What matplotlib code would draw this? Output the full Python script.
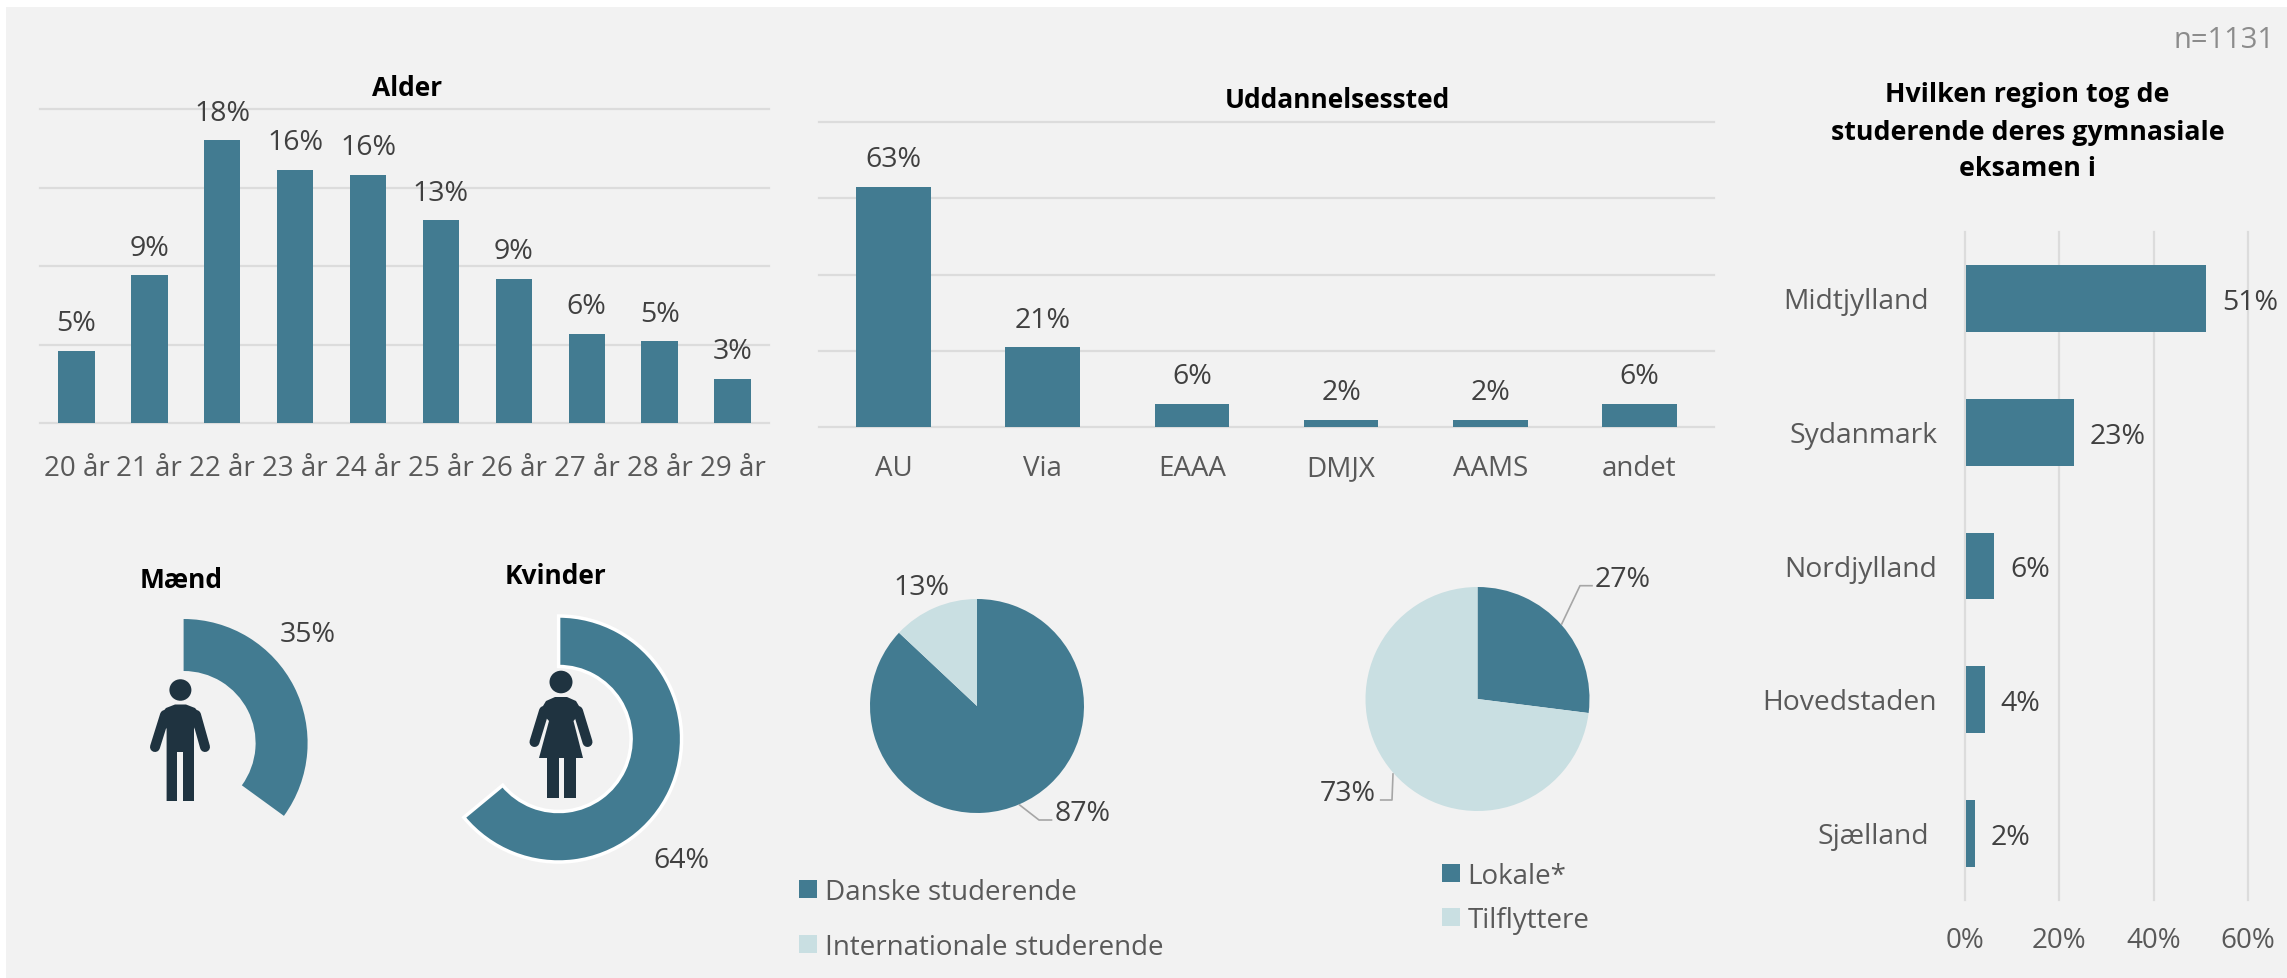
import matplotlib
matplotlib.use('Agg')
import matplotlib.pyplot as plt
from matplotlib.patches import Rectangle, Ellipse, Polygon
from matplotlib.transforms import ScaledTranslation

W, H = 2287, 979

TEAL = '#427b91'
LIGHT = '#c9dfe2'
DARK = '#1f3340'
GRID = '#dcdcdc'
VALUE = '#404040'
TICK = '#595959'
BG = '#f2f2f2'

age_labels = ['20 år', '21 år', '22 år', '23 år', '24 år', '25 år', '26 år', '27 år', '28 år', '29 år']
age_values = [4.6, 9.4, 18.0, 16.1, 15.8, 12.9, 9.2, 5.7, 5.2, 2.8]
age_text = ['5%', '9%', '18%', '16%', '16%', '13%', '9%', '6%', '5%', '3%']

school_labels = ['AU', 'Via', 'EAAA', 'DMJX', 'AAMS', 'andet']
school_values = [62.9, 20.9, 6.0, 1.9, 1.9, 6.0]
school_text = ['63%', '21%', '6%', '2%', '2%', '6%']

region_labels = ['Midtjylland', 'Sydanmark', 'Nordjylland', 'Hovedstaden', 'Sjælland']
region_values = [51, 22.9, 6, 4, 2]
region_text = ['51%', '23%', '6%', '4%', '2%']
region_ticks = [0, 20, 40, 60]

men_share = [35, 65]
women_share = [64, 36]
nationality_share = [87, 13]
local_share = [27, 73]

plt.rcParams['font.family'] = ['Open Sans', 'DejaVu Sans']


def px_axes(fig, left, top, right, bottom, **kw):
    return fig.add_axes([left / W, 1 - bottom / H, (right - left) / W, (bottom - top) / H], **kw)


def style_axes(ax):
    ax.patch.set_visible(False)
    for s in ax.spines.values():
        s.set_visible(False)
    ax.set_axisbelow(True)
    ax.tick_params(length=0)


def column_chart(fig, box, labels, values, text, ymax, step, pad):
    ax = px_axes(fig, *box)
    style_axes(ax)
    x = list(range(len(values)))
    ax.bar(x, values, width=0.5, color=TEAL)
    ax.set_xlim(-0.5, len(values) - 0.5)
    ax.set_ylim(0, ymax)
    ax.set_yticks(list(range(0, ymax + 1, step)))
    ax.set_yticklabels([])
    ax.set_xticks(x)
    ax.set_xticklabels(labels, fontsize=20, color=TICK)
    ax.tick_params(axis='x', pad=pad)
    ax.grid(axis='y', color=GRID, lw=1.6)
    for line in ax.get_ygridlines():
        line.set_clip_on(False)
    for i, v in enumerate(values):
        ax.annotate(text[i], (i, v), xytext=(0, 20), textcoords='offset points',
                    ha='center', va='center', fontsize=20.5, color=VALUE)
    return ax


def ring(fig, cx, cy, r, share, width, edge=None):
    ax = px_axes(fig, cx - r, cy - r, cx + r, cy + r)
    wedges, _ = ax.pie(share, colors=[TEAL, 'none'], startangle=90, counterclock=False, radius=1,
                       wedgeprops={'width': width, 'clip_on': False, 'linewidth': 0})
    if edge:
        wedges[0].set_edgecolor(edge)
        wedges[0].set_linewidth(2.5)
    ax.set_xlim(-1, 1)
    ax.set_ylim(-1, 1)
    return ax


def pie(fig, cx, cy, r, share):
    ax = px_axes(fig, cx - r, cy - r, cx + r, cy + r)
    ax.pie(share, colors=[TEAL, LIGHT], startangle=90, counterclock=False, radius=1,
           wedgeprops={'clip_on': False, 'linewidth': 0})
    ax.set_xlim(-1, 1)
    ax.set_ylim(-1, 1)
    return ax


fig = plt.figure(figsize=(W / 100, H / 100), dpi=100, facecolor='white')

# full figure layer in pixels, for the panel, icons, leaders and free text
ov = fig.add_axes([0, 0, 1, 1], zorder=5)
ov.set_xlim(0, W)
ov.set_ylim(H, 0)
ov.axis('off')
ov.patch.set_visible(False)

under = fig.add_axes([0, 0, 1, 1], zorder=-1)
under.set_xlim(0, W)
under.set_ylim(H, 0)
under.axis('off')
under.add_patch(Rectangle((6, 8), W - 6, H - 8, color=BG, lw=0))

column_chart(fig, (40, 110, 769, 424), age_labels, age_values, age_text, 20, 5, 22)
column_chart(fig, (819, 123, 1714, 428), school_labels, school_values, school_text, 80, 20, 19.4)

# region chart
ax = px_axes(fig, 1965, 233, 2248, 901)
style_axes(ax)
y = list(range(len(region_values)))
ax.barh(y, region_values, height=0.5, color=TEAL, left=0.2)
ax.set_xlim(0, 60)
ax.set_ylim(len(region_values) - 0.5, -0.5)
ax.set_xticks(region_ticks)
ax.set_xticklabels([f'{t}%' for t in region_ticks], fontsize=20, color=TICK)
ax.tick_params(axis='x', pad=19)
ax.set_yticks(y)
ax.set_yticklabels(region_labels, fontsize=20.3, color=TICK, va='center')
ax.grid(axis='x', color=GRID, lw=1.6)
for line in ax.get_xgridlines():
    line.set_clip_on(False)
for tick, pad in zip(ax.yaxis.get_major_ticks(), [26, 20, 20, 20, 26]):
    tick.set_pad(pad)
    # the labels sit a little lower than the bar centres
    tick.label1.set_transform(tick.label1.get_transform() + ScaledTranslation(0, -0.025, fig.dpi_scale_trans))
for i, v in enumerate(region_values):
    ax.annotate(region_text[i], (v, i), xytext=(12, -2.5), textcoords='offset points',
                ha='left', va='center', fontsize=20.5, color=VALUE)

# gender rings and pies
ring(fig, 183.6, 744, 124, men_share, (124 - 72) / 124)
ring(fig, 558.6, 740, 123, women_share, (123 - 72.5) / 123, edge='white')
pie(fig, 977, 707, 107, nationality_share)
pie(fig, 1477.5, 700, 112, local_share)

# man icon
ov.add_patch(Ellipse((180.4, 691), 22, 21.5, color=DARK, lw=0))
ov.add_patch(Polygon([(166.6, 802), (177, 802), (177, 753), (183, 753), (183, 802), (194, 802),
                      (194, 730), (201, 716), (195, 709), (186, 705.5), (175, 705.5), (166, 709),
                      (160, 716), (166.6, 730)], color=DARK, lw=0))
ov.plot([165, 155], [716, 748], color=DARK, lw=7.2, solid_capstyle='round')
ov.plot([196, 205], [716, 748], color=DARK, lw=7.2, solid_capstyle='round')

# woman icon
ov.add_patch(Ellipse((561, 683), 23, 22.6, color=DARK, lw=0))
ov.add_patch(Polygon([(539, 759), (583, 759), (573.5, 722), (582, 712), (576, 702), (567, 698),
                      (555, 698), (546, 702), (540, 712), (549, 722)], color=DARK, lw=0))
ov.add_patch(Rectangle((546.5, 758), 12.1, 41, color=DARK, lw=0))
ov.add_patch(Rectangle((564, 758), 11.5, 41, color=DARK, lw=0))
ov.plot([544, 534.5], [712, 743], color=DARK, lw=7.2, solid_capstyle='round')
ov.plot([578, 587.5], [712, 743], color=DARK, lw=7.2, solid_capstyle='round')

# leader lines
for xs, ys in [([1019.7, 1039, 1051.5], [806, 821, 821]),
               ([1561.7, 1580, 1592], [625, 586.7, 586.7]),
               ([1393, 1392, 1380.7], [775, 801, 801])]:
    ov.plot(xs, ys, color='#a6a6a6', lw=1.2)

# titles
for txt, px, py in [('Alder', 406.6, 88.5), ('Uddannelsessted', 1337, 100.5),
                    ('Mænd', 181, 581), ('Kvinder', 555.4, 577)]:
    ov.text(px, py, txt, ha='center', va='center', fontsize=19, fontweight='bold', color='black')
ov.text(2027.5, 132.5, 'Hvilken region tog de\nstuderende deres gymnasiale\neksamen i', ha='center', va='center',
        fontsize=19.3, fontweight='bold', color='black', linespacing=1.55)
ov.text(2274, 41, 'n=1131', ha='right', va='center', fontsize=21, color='#8c8c8c')

# ring and pie labels
for txt, px, py in [('35%', 307.7, 635), ('64%', 681, 861), ('13%', 921.5, 588), ('87%', 1083, 814),
                    ('27%', 1623, 580), ('73%', 1348, 794)]:
    ov.text(px, py, txt, ha='center', va='center', fontsize=20.5, color=VALUE)

# legends
for txt, col, bx, by, tx in [('Danske studerende', TEAL, 799, 881, 825),
                             ('Internationale studerende', LIGHT, 799, 936, 825),
                             ('Lokale*', TEAL, 1442, 865, 1467.5),
                             ('Tilflyttere', LIGHT, 1442, 909, 1467.5)]:
    ov.add_patch(Rectangle((bx, by), 18, 18, color=col, lw=0))
    ov.text(tx, by + 12, txt, ha='left', va='center', fontsize=20, color=TICK)

fig.savefig('out.png', dpi=100, facecolor='white')
